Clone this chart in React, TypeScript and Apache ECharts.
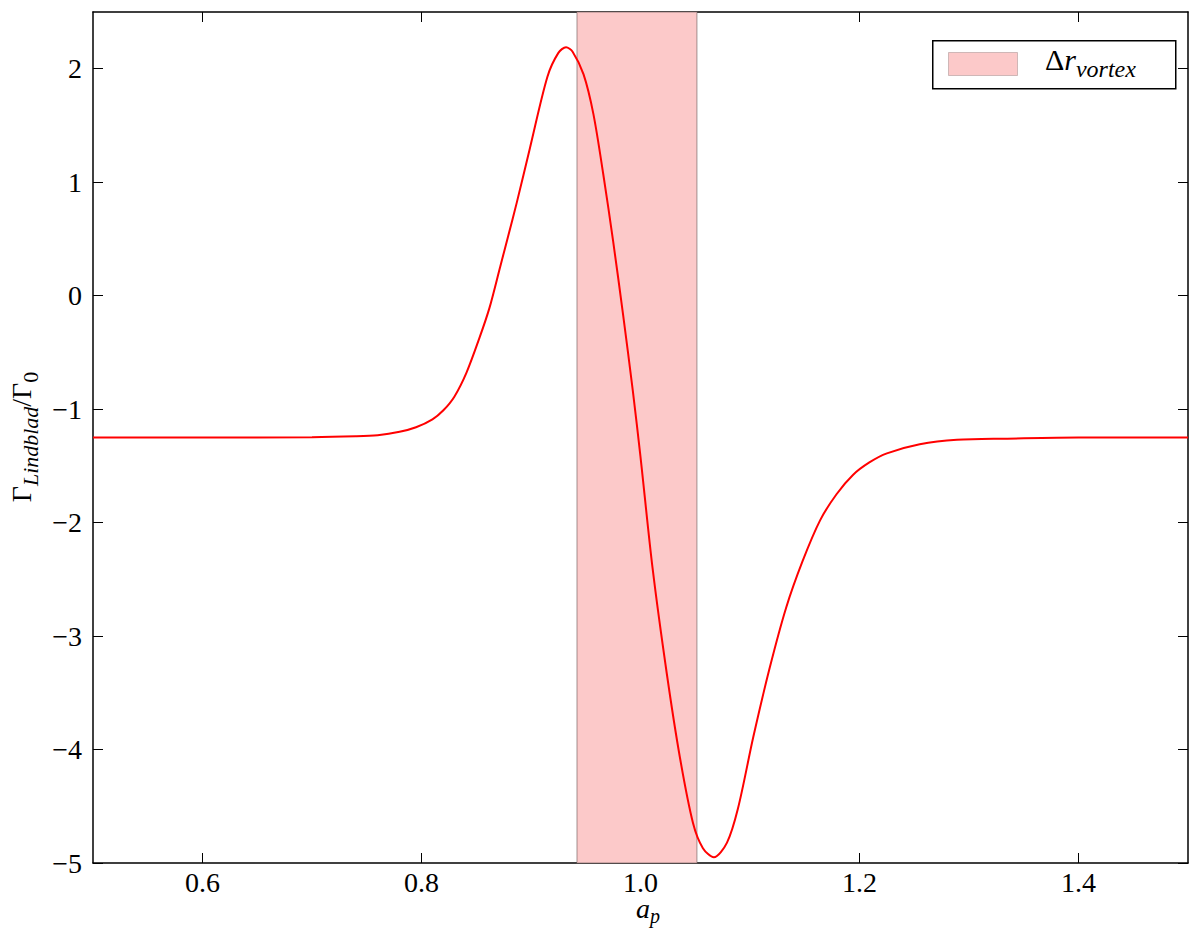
import React, { useEffect, useRef } from "react";
import * as echarts from "echarts";

const xValues = [0.5, 0.6, 0.7, 0.74, 0.76, 0.78, 0.795, 0.81, 0.82, 0.83, 0.841, 0.853, 0.862, 0.872, 0.879, 0.887, 0.899, 0.915, 0.925, 0.932, 0.938, 0.948, 0.957, 0.966, 0.975, 0.984, 0.993, 1.0, 1.011, 1.024, 1.036, 1.048, 1.057, 1.067, 1.079, 1.089, 1.103, 1.118, 1.133, 1.148, 1.164, 1.179, 1.194, 1.209, 1.225, 1.255, 1.289, 1.335, 1.4, 1.5];
const torqueValues = [-1.25, -1.25, -1.248, -1.24, -1.23, -1.2, -1.16, -1.09, -1.01, -0.89, -0.68, -0.37, -0.11, 0.26, 0.52, 0.82, 1.3, 1.93, 2.14, 2.19, 2.15, 1.95, 1.6, 1.07, 0.48, -0.16, -0.84, -1.42, -2.4, -3.33, -4.07, -4.65, -4.87, -4.95, -4.82, -4.52, -3.89, -3.28, -2.75, -2.34, -1.98, -1.75, -1.58, -1.47, -1.39, -1.31, -1.27, -1.26, -1.25, -1.25];
const vortexRange = [0.942, 1.0515];
const xTicks = [0.6, 0.8, 1.0, 1.2, 1.4];
const yTicks = [-5, -4, -3, -2, -1, 0, 1, 2];

const FONT = "Liberation Serif";

export default function App() {
  const ref = useRef<HTMLDivElement>(null);
  useEffect(() => {
    if (!ref.current) return;
    const chart = echarts.init(ref.current, null, { renderer: "svg" });
    const fmtY = (v: number) => (v < 0 ? "\u2212" + Math.abs(v) : String(v));
    const axisCommon = {
      axisLine: { show: true, onZero: false, lineStyle: { color: "#000", width: 1.5 } },
      splitLine: { show: false },
    };
    chart.setOption({
      animation: false,
      backgroundColor: "#fff",
      grid: { left: 93, right: 12, top: 12, bottom: 66, containLabel: false, outerBoundsMode: "none" },
      xAxis: [
        {
          type: "value",
          min: 0.5,
          max: 1.5,
          ...axisCommon,
          axisTick: { show: true, inside: true, length: 10, customValues: xTicks, lineStyle: { color: "#000", width: 1 } },
          axisLabel: {
            customValues: xTicks,
            formatter: (v: number) => v.toFixed(1),
            fontFamily: FONT,
            fontSize: 28,
            lineHeight: 26,
            color: "#000",
            margin: 6,
          },
        },
        {
          type: "value",
          position: "top",
          min: 0.5,
          max: 1.5,
          ...axisCommon,
          axisTick: { show: true, inside: true, length: 10, customValues: xTicks, lineStyle: { color: "#000", width: 1 } },
          axisLabel: { show: false },
        },
      ],
      yAxis: [
        {
          type: "value",
          min: -5,
          max: 2.5,
          interval: 1,
          ...axisCommon,
          axisTick: { show: true, inside: true, length: 10, customValues: yTicks, lineStyle: { color: "#000", width: 1 } },
          axisLabel: {
            customValues: yTicks,
            formatter: fmtY,
            fontFamily: FONT,
            fontSize: 28,
            color: "#000",
            margin: 11,
          },
        },
        {
          type: "value",
          position: "right",
          min: -5,
          max: 2.5,
          interval: 1,
          ...axisCommon,
          axisTick: { show: true, inside: true, length: 10, customValues: yTicks, lineStyle: { color: "#000", width: 1 } },
          axisLabel: { show: false },
        },
      ],
      series: [
        {
          type: "line",
          xAxisIndex: 0,
          yAxisIndex: 0,
          data: xValues.map((x, i) => [x, torqueValues[i]]),
          smooth: 0.3,
          showSymbol: false,
          lineStyle: { color: "#ff0000", width: 2 },
          z: 3,
          markArea: {
            silent: true,
            itemStyle: { color: "#fcc9c9", borderColor: "rgba(120,100,100,0.45)", borderWidth: 1.5 },
            data: [[{ xAxis: vortexRange[0] }, { xAxis: vortexRange[1] }]],
          },
        },
      ],
      graphic: [
        {
          type: "text",
          x: 648,
          y: 910,
          style: {
            text: "{i|a}{s|p}",
            align: "center",
            verticalAlign: "middle",
            rich: {
              i: { fontFamily: FONT, fontStyle: "italic", fontSize: 28, fill: "#000", lineHeight: 24, verticalAlign: "bottom" },
              s: { fontFamily: FONT, fontStyle: "italic", fontSize: 20, fill: "#000", lineHeight: 20, verticalAlign: "bottom", padding: [0, 0, -4, 0] },
            },
          },
        },
        {
          type: "text",
          x: 20,
          y: 437,
          rotation: Math.PI / 2,
          style: {
            text: "{g|\u0393}{s|Lindblad}{g|/\u0393}{z|0}",
            align: "center",
            verticalAlign: "middle",
            rich: {
              g: { fontFamily: FONT, fontSize: 28, fill: "#000", lineHeight: 30, verticalAlign: "bottom" },
              s: { fontFamily: FONT, fontStyle: "italic", fontSize: 22, fill: "#000", lineHeight: 24, verticalAlign: "bottom", padding: [0, 0, -6, 0] },
              z: { fontFamily: FONT, fontSize: 22, fill: "#000", lineHeight: 24, verticalAlign: "bottom", padding: [0, 0, -6, 0] },
            },
          },
        },
        {
          type: "rect",
          left: 932,
          top: 40,
          shape: { width: 243, height: 48 },
          style: { fill: "#fff", stroke: "#000", lineWidth: 1.5 },
          z: 10,
        },
        {
          type: "rect",
          left: 948,
          top: 52,
          shape: { width: 69, height: 23 },
          style: { fill: "#fcc9c9", stroke: "rgba(120,100,100,0.35)", lineWidth: 1 },
          z: 11,
        },
        {
          type: "text",
          left: 1045,
          top: 44,
          style: {
            text: "{d|\u0394}{r|r}{s|vortex}",
            rich: {
              d: { fontFamily: FONT, fontSize: 30, fill: "#000", lineHeight: 34, verticalAlign: "bottom" },
              r: { fontFamily: FONT, fontStyle: "italic", fontSize: 30, fill: "#000", lineHeight: 34, verticalAlign: "bottom" },
              s: { fontFamily: FONT, fontStyle: "italic", fontSize: 24, fill: "#000", lineHeight: 26, verticalAlign: "bottom", padding: [0, 0, -7, 0] },
            },
          },
          z: 11,
        },
      ],
    });
    return () => chart.dispose();
  }, []);
  return <div ref={ref} style={{ width: 1200, height: 929, position: "absolute", left: 0, top: 0 }} />;
}
